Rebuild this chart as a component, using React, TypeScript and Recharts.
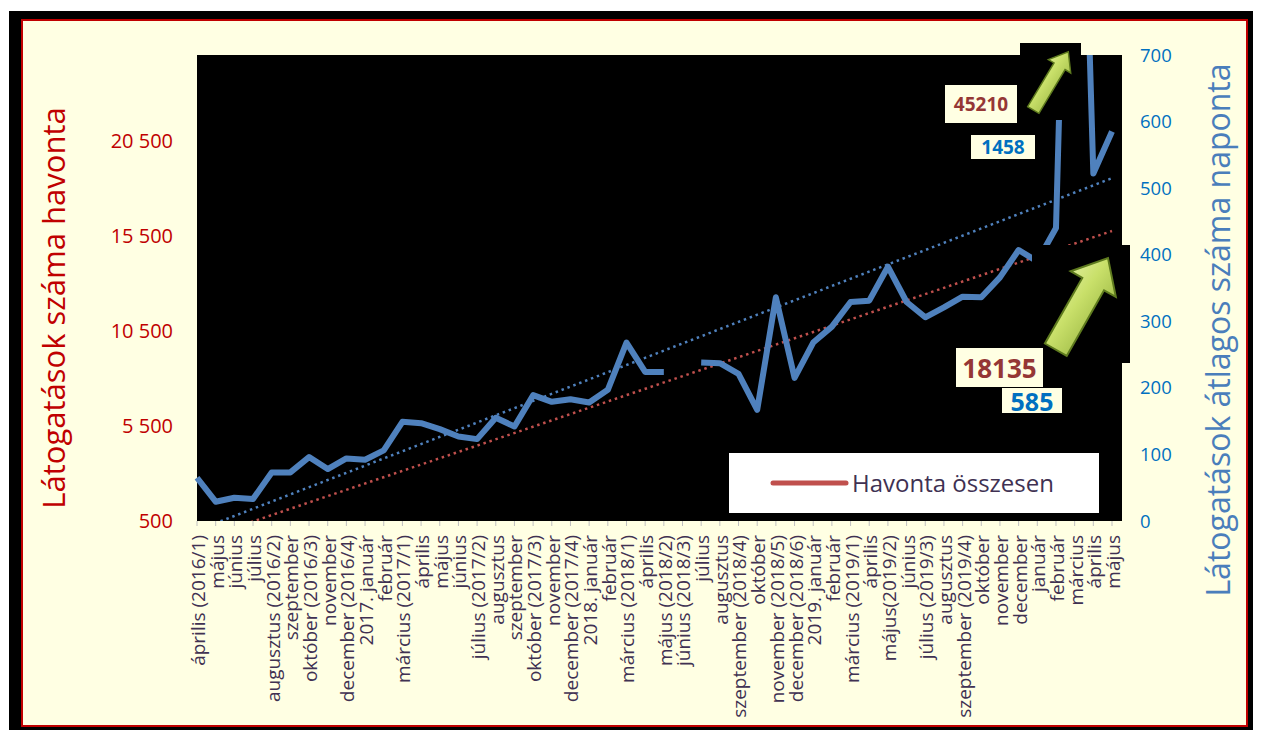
import React from "react";
import { LineChart, Line, XAxis, YAxis, CartesianGrid, ReferenceLine, Legend } from "recharts";

const months = [
  "április (2016/1)", "május", "június", "július", "augusztus (2016/2)", "szeptember",
  "október (2016/3)", "november", "december (2016/4)", "2017. január", "február",
  "március (2017/1)", "április", "május", "június", "július (2017/2)", "augusztus",
  "szeptember", "október (2017/3)", "november", "december (2017/4)", "2018. január",
  "február", "március (2018/1)", "április", "május (2018/2)", "június (2018/3)", "július",
  "augusztus", "szeptember (2018/4)", "október", "november (2018/5)", "december (2018/6)",
  "2019. január", "február", "március (2019/1)", "április", "május(2019/2)", "június",
  "július (2019/3)", "augusztus", "szeptember (2019/4)", "október", "november", "december",
  "január", "február", "március", "április", "május",
];

// average daily visits (right axis); június 2018 is missing
const dailyAvg: (number | null)[] = [
  65, 29, 35, 33, 73, 73, 96, 78, 94, 92, 106, 149, 147, 138, 127, 123, 155, 142, 189, 179,
  183, 178, 197, 268, 224, 224, null, 238, 237, 221, 167, 336, 215, 268, 292, 329, 331, 382,
  329, 306, 321, 337, 336, 366, 407, 390, 440, 1458, 522, 585,
];

const leftTicks = [500, 5500, 10500, 15500, 20500];
const rightTicks = [0, 100, 200, 300, 400, 500, 600, 700];

// linear trend lines, value at first and last month
const totalTrend = [-515, 15747];
const dailyTrend = [-14, 515];

const CREAM = "#FFFFE3";
const BLUE = "#4F81BD";
const RED = "#C0504D";
const FONT = '"Open Sans", sans-serif';

const rows = months.map((m, i) => ({ idx: i, daily: dailyAvg[i] }));
const last = months.length - 1;

const fmt = (v: number) => String(v).replace(/\B(?=(\d{3})+(?!\d))/g, " ");

const MonthTick = (props: any) => {
  const { x, y, payload } = props;
  return (
    <text
      x={x}
      y={y}
      transform={`rotate(-90 ${x} ${y})`}
      textAnchor="end"
      dy="0.42em"
      fill="#403152"
      fontSize={19}
      fontFamily={FONT}
    >
      {months[payload.value]}
    </text>
  );
};

const LegendBox = () => (
  <svg width={370} height={60} style={{ display: "block" }}>
    <rect x={0} y={0} width={370} height={60} fill="#fff" />
    <line x1={44} y1={30} x2={117} y2={30} stroke={RED} strokeWidth={5} strokeLinecap="round" />
    <text x={123} y={39} fontSize={24} fill="#403152" fontFamily={FONT}>
      Havonta összesen
    </text>
  </svg>
);

function arrowPoints(tx: number, ty: number, hx: number, hy: number, shaft: number, head: number, headLen: number) {
  const dx = hx - tx;
  const dy = hy - ty;
  const L = Math.hypot(dx, dy);
  const ux = dx / L, uy = dy / L;
  const px = -uy, py = ux;
  const bx = hx - ux * headLen, by = hy - uy * headLen;
  const p = (x: number, y: number) => `${x.toFixed(1)},${y.toFixed(1)}`;
  return [
    p(tx + px * shaft / 2, ty + py * shaft / 2),
    p(bx + px * shaft / 2, by + py * shaft / 2),
    p(bx + px * head / 2, by + py * head / 2),
    p(hx, hy),
    p(bx - px * head / 2, by - py * head / 2),
    p(bx - px * shaft / 2, by - py * shaft / 2),
    p(tx - px * shaft / 2, ty - py * shaft / 2),
  ].join(" ");
}

const Callout = ({ x, y, w, h, text, color, size }: any) => (
  <g>
    <rect x={x} y={y} width={w} height={h} fill={CREAM} />
    <text
      x={x + w / 2}
      y={y + h / 2}
      textAnchor="middle"
      dominantBaseline="central"
      fontSize={size}
      fontWeight="bold"
      fill={color}
      fontFamily={FONT}
    >
      {text}
    </text>
  </g>
);

export default function App() {
  return (
    <div
      style={{
        position: "relative",
        left: 1,
        top: 3,
        width: 1248,
        height: 722,
        background: "#000",
        fontFamily: FONT,
      }}
    >
      <div
        style={{
          position: "absolute",
          left: 12,
          top: 8,
          width: 1227,
          height: 708,
          boxSizing: "border-box",
          border: "2px solid #C00000",
          background: CREAM,
        }}
      />
      <div style={{ position: "absolute", left: 0, top: 0 }}>
        <LineChart width={1248} height={722} data={rows} margin={{ top: 44, right: 0, left: 0, bottom: 0 }}>
          <CartesianGrid yAxisId="right" horizontal={false} vertical={false} fill="#000" fillOpacity={1} stroke="none" />
          <XAxis
            dataKey="idx"
            type="category"
            interval={0}
            height={212}
            padding={{ left: 0, right: 10 }}
            axisLine={false}
            tickLine={{ stroke: "#BFBFBF" }}
            tickSize={5}
            tickMargin={9}
            tick={<MonthTick />}
          />
          <YAxis
            yAxisId="left"
            width={188}
            domain={[500, 25000]}
            ticks={leftTicks}
            allowDataOverflow
            axisLine={false}
            tickLine={false}
            tickSize={0}
            tickMargin={24}
            tickFormatter={fmt}
            tick={{ fill: "#C00000", fontSize: 20, fontFamily: FONT }}
          />
          <YAxis
            yAxisId="right"
            orientation="right"
            width={135}
            domain={[0, 700]}
            ticks={rightTicks}
            allowDataOverflow
            axisLine={false}
            tickLine={false}
            tickSize={0}
            tickMargin={18}
            tick={{ fill: "#0070C0", fontSize: 18.5, fontFamily: FONT }}
          />
          <ReferenceLine
            yAxisId="left"
            ifOverflow="hidden"
            segment={[{ x: 0, y: totalTrend[0] }, { x: last, y: totalTrend[1] }]}
            stroke={RED}
            strokeWidth={2.5}
            strokeDasharray="2.5 3.8"
          />
          <ReferenceLine
            yAxisId="right"
            ifOverflow="hidden"
            segment={[{ x: 0, y: dailyTrend[0] }, { x: last, y: dailyTrend[1] }]}
            stroke={BLUE}
            strokeWidth={2.5}
            strokeDasharray="2.5 3.8"
          />
          <Line
            yAxisId="right"
            dataKey="daily"
            stroke={BLUE}
            strokeWidth={6}
            strokeLinejoin="round"
            dot={false}
            legendType="none"
            isAnimationActive={false}
          />
          <Legend
            layout="horizontal"
            verticalAlign="middle"
            align="center"
            wrapperStyle={{ left: 720, top: 442, width: 370, height: 60 }}
            content={() => <LegendBox />}
          />
        </LineChart>
      </div>
      <svg
        width={1248}
        height={722}
        style={{ position: "absolute", left: 0, top: 0, pointerEvents: "none" }}
      >
        <defs>
          <linearGradient id="arrowFill" x1="0" y1="0" x2="1" y2="1">
            <stop offset="0" stopColor="#F2F9C4" />
            <stop offset="0.45" stopColor="#C9E06A" />
            <stop offset="1" stopColor="#7F9E2C" />
          </linearGradient>
        </defs>
        <text
          x={56}
          y={297}
          transform="rotate(-90 56 297)"
          textAnchor="middle"
          fontSize={31}
          fill="#C00000"
          fontFamily={FONT}
        >
          Látogatások száma havonta
        </text>
        <text
          x={1221}
          y={319}
          transform="rotate(-90 1221 319)"
          textAnchor="middle"
          fontSize={32}
          fill="#4A7EBB"
          fontFamily={FONT}
        >
          Látogatások átlagos száma naponta
        </text>
        <rect x={1011} y={32} width={61} height={77} fill="#000" />
        <rect x={1023} y={234} width={98} height={118} fill="#000" />
        <polygon
          points={arrowPoints(1024.3, 99, 1059.3, 40.7, 13, 26, 17)}
          fill="url(#arrowFill)"
          stroke="#5E7A1E"
          strokeWidth={1.5}
        />
        <polygon
          points={arrowPoints(1046.8, 338.7, 1099, 247, 25, 52, 30)}
          fill="url(#arrowFill)"
          stroke="#5E7A1E"
          strokeWidth={2}
        />
        <Callout x={936} y={74} w={72} h={38} text="45210" color="#953735" size={19} />
        <Callout x={962} y={124} w={64} h={24} text="1458" color="#0070C0" size={19} />
        <Callout x={947} y={337} w={87} h={39} text="18135" color="#953735" size={26} />
        <Callout x={993} y={377} w={60} h={25} text="585" color="#0070C0" size={25} />
      </svg>
    </div>
  );
}
